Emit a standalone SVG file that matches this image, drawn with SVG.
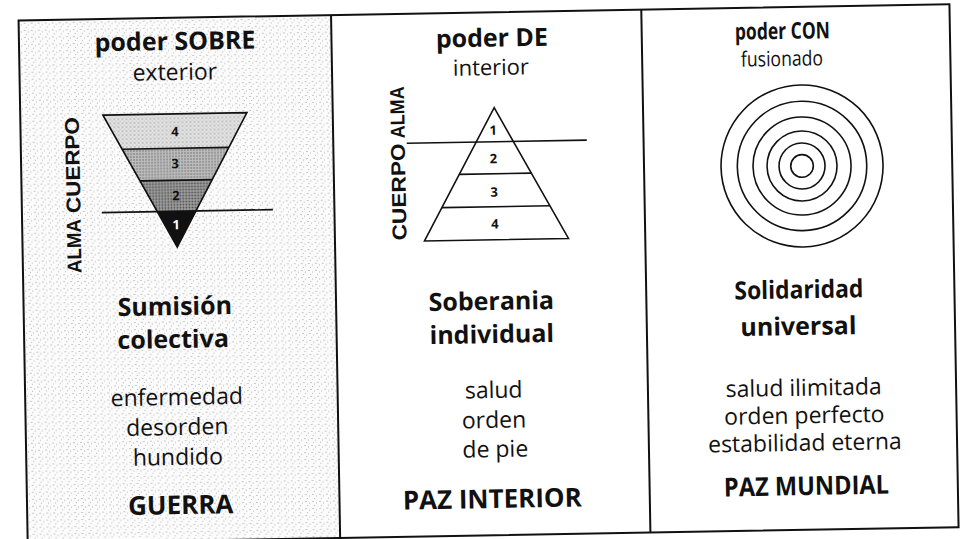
<svg xmlns="http://www.w3.org/2000/svg" width="960" height="539" viewBox="0 0 960 539">
  <defs>
    <pattern id="stipple" patternUnits="userSpaceOnUse" width="7" height="7">
      <rect width="7" height="7" fill="#fbfbfb"/>
      <circle cx="1" cy="1.5" r="0.6" fill="#8a8a8a"/>
      <circle cx="4.5" cy="3" r="0.5" fill="#9a9a9a"/>
      <circle cx="2.5" cy="5.5" r="0.5" fill="#a0a0a0"/>
    </pattern>
    <pattern id="stip4" patternUnits="userSpaceOnUse" width="4" height="4">
      <rect width="4" height="4" fill="#e4e4e4"/>
      <circle cx="1" cy="1" r="0.7" fill="#888"/>
      <circle cx="3" cy="3" r="0.5" fill="#999"/>
    </pattern>
    <pattern id="stip3" patternUnits="userSpaceOnUse" width="3" height="3">
      <rect width="3" height="3" fill="#bdbdbd"/>
      <circle cx="1" cy="1" r="0.8" fill="#6a6a6a"/>
    </pattern>
    <pattern id="stip2" patternUnits="userSpaceOnUse" width="3" height="3">
      <rect width="3" height="3" fill="#a0a0a0"/>
      <circle cx="1.5" cy="1.5" r="0.9" fill="#4a4a4a"/>
    </pattern>
  </defs>
  <style>
    .frame { fill: none; stroke: #111; stroke-width: 2; }
    .line { fill: none; stroke: #111; stroke-width: 1.6; }
    .hb { font-family: "Open Sans", "Noto Sans", sans-serif; font-weight: 700; font-size: 25px; fill: #111; text-anchor: middle; }
    .bb { font-family: "Open Sans", "Noto Sans", sans-serif; font-weight: 700; font-size: 26px; fill: #111; text-anchor: middle; }
    .rg { font-family: "Open Sans", "Noto Sans", sans-serif; font-weight: 400; font-size: 23px; fill: #111; text-anchor: middle; }
    .vt { font-family: "Liberation Sans", Arial, sans-serif; font-weight: 700; font-size: 20px; fill: #111; text-anchor: start; }
    .num { font-family: "Open Sans", "Noto Sans", sans-serif; font-weight: 700; font-size: 13px; fill: #111; text-anchor: middle; }
    .white { fill: #ffffff; }
  </style>
  <rect width="960" height="539" fill="#ffffff"/>
  <g transform="rotate(-1 480 270)">
    <rect x="23" y="12.5" width="312.5" height="523" fill="url(#stipple)"/>

    <g id="panel-sobre">
      <text class="hb" x="179" y="44.7">poder SOBRE</text>
      <text class="rg" x="178.3" y="74.7">exterior</text>
      <polygon points="105.7,108.6 249.7,108.6 231.1,143 124.3,143" fill="url(#stip4)"/>
      <polygon points="124.3,143 231.1,143 213.8,175 141.6,175" fill="url(#stip3)"/>
      <polygon points="141.6,175 213.8,175 197,206 158.4,206" fill="url(#stip2)"/>
      <polygon points="158.4,206 197,206 177.7,241.7" fill="#111"/>
      <polygon class="line" points="105.7,108.6 249.7,108.6 177.7,241.7"/>
      <line class="line" x1="124.3" y1="143" x2="231.1" y2="143"/>
      <line class="line" x1="141.6" y1="175" x2="213.8" y2="175"/>
      <line class="line" x1="103" y1="206" x2="274" y2="206"/>
      <text class="num" x="177.4" y="131">4</text>
      <text class="num" x="177" y="163">3</text>
      <text class="num" x="177.3" y="195">2</text>
      <text class="num white" x="177" y="224">1</text>
      <text class="vt" transform="translate(81.5 266) rotate(-90)" textLength="54" lengthAdjust="spacingAndGlyphs">ALMA</text>
      <text class="vt" transform="translate(81.5 206) rotate(-90)" textLength="96" lengthAdjust="spacingAndGlyphs">CUERPO</text>
      <text class="hb" x="174.2" y="309.7">Sumisión</text>
      <text class="hb" x="172" y="342.6">colectiva</text>
      <text class="rg" x="174.6" y="399.7">enfermedad</text>
      <text class="rg" x="174.6" y="429.7">desorden</text>
      <text class="rg" x="174.6" y="459.7">hundido</text>
      <text class="bb" x="176.7" y="508.8">GUERRA</text>
    </g>

    <g id="panel-de">
      <text class="hb" x="495.9" y="46.9">poder DE</text>
      <text class="rg" x="494.5" y="75.3" style="font-size:22px">interior</text>
      <polygon class="line" points="497,108 569,240 425,240"/>
      <line class="line" x1="409" y1="142" x2="589" y2="142"/>
      <line class="line" x1="461" y1="174" x2="533" y2="174"/>
      <line class="line" x1="443" y1="207" x2="551" y2="207"/>
      <text class="num" x="495.7" y="135">1</text>
      <text class="num" x="495.3" y="163.5">2</text>
      <text class="num" x="495.4" y="197">3</text>
      <text class="num" x="495.8" y="228.6">4</text>
      <text class="vt" transform="translate(407 137) rotate(-90)" textLength="52" lengthAdjust="spacingAndGlyphs">ALMA</text>
      <text class="vt" transform="translate(407 239) rotate(-90)" textLength="97" lengthAdjust="spacingAndGlyphs">CUERPO</text>
      <text class="hb" x="490.8" y="310.2">Soberania</text>
      <text class="hb" x="490.7" y="343.2">individual</text>
      <text class="rg" x="491.6" y="398.2">salud</text>
      <text class="rg" x="491.4" y="428.2">orden</text>
      <text class="rg" x="492.2" y="457.3">de pie</text>
      <text class="bb" x="488.3" y="508.2">PAZ INTERIOR</text>
    </g>

    <g id="panel-con">
      <text class="hb" x="786.5" y="44.3" textLength="95" lengthAdjust="spacingAndGlyphs" style="font-size:23px">poder CON</text>
      <text class="rg" x="785.6" y="71.3" textLength="82" lengthAdjust="spacingAndGlyphs" style="font-size:21px">fusionado</text>
      <g fill="none" stroke="#111" stroke-width="1.6">
        <circle cx="803.8" cy="171.6" r="81"/>
        <circle cx="803.8" cy="171.6" r="64.7"/>
        <circle cx="803.8" cy="171.6" r="49"/>
        <circle cx="803.8" cy="171.6" r="35"/>
        <circle cx="803.8" cy="171.6" r="23"/>
        <circle cx="803.8" cy="171.6" r="11.3"/>
      </g>
      <text class="hb" x="798.5" y="303.9" textLength="129" lengthAdjust="spacingAndGlyphs">Solidaridad</text>
      <text class="hb" x="797.4" y="340.6">universal</text>
      <text class="rg" x="801.6" y="401.4">salud ilimitada</text>
      <text class="rg" x="801.8" y="429">orden perfecto</text>
      <text class="rg" x="801.8" y="456.4">estabilidad eterna</text>
      <text class="bb" x="802.6" y="500.7" textLength="165" lengthAdjust="spacingAndGlyphs">PAZ MUNDIAL</text>
    </g>

    <g id="frame">
      <rect class="frame" x="23" y="12.5" width="931" height="523"/>
      <line class="frame" x1="335.5" y1="12.5" x2="335.5" y2="535.5"/>
      <line class="frame" x1="645.8" y1="12.5" x2="645.8" y2="535.5"/>
    </g>
  </g>
</svg>
